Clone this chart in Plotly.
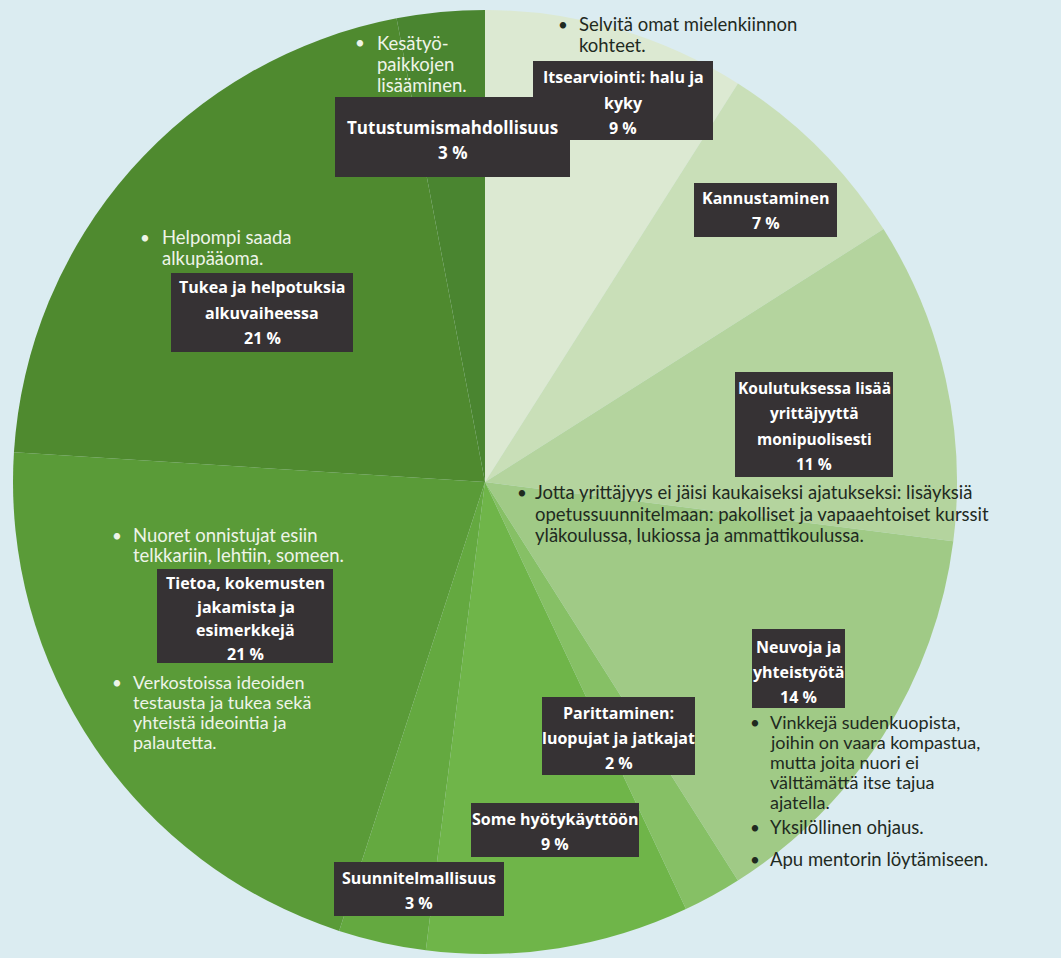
import plotly.graph_objects as go

W, H = 1061, 958

# ---- data ----
categories = [
    "Itsearviointi: halu ja kyky",
    "Kannustaminen",
    "Koulutuksessa lisää yrittäjyyttä monipuolisesti",
    "Neuvoja ja yhteistyötä",
    "Parittaminen: luopujat ja jatkajat",
    "Some hyötykäyttöön",
    "Suunnitelmallisuus",
    "Tietoa, kokemusten jakamista ja esimerkkejä",
    "Tukea ja helpotuksia alkuvaiheessa",
    "Tutustumismahdollisuus",
]
values = [9, 7, 11, 14, 2, 9, 3, 21, 21, 3]
slice_colors = ["#dce9d2", "#c9dfb8", "#b4d49e", "#a0ca86", "#86c065",
                "#6fb549", "#64a940", "#5a9b38", "#4f8a2f", "#4a8530"]

# label boxes: wrapped label lines (value appended), box extents in pixels
label_lines = [
    ["Itsearviointi: halu ja", "kyky"],
    ["Kannustaminen"],
    ["Koulutuksessa lisää", "yrittäjyyttä", "monipuolisesti"],
    ["Neuvoja ja", "yhteistyötä"],
    ["Parittaminen:", "luopujat ja jatkajat"],
    ["Some hyötykäyttöön"],
    ["Suunnitelmallisuus"],
    ["Tietoa, kokemusten", "jakamista ja", "esimerkkejä"],
    ["Tukea ja helpotuksia", "alkuvaiheessa"],
    ["Tutustumismahdollisuus"],
]
# (x0, y0, x1, y1, first line y, line step, font size)
label_boxes = [
    (533, 61, 713, 140, 77, 25.5, 16),
    (694, 183, 837, 237, 198, 25, 16),
    (735, 372, 893, 477, 388, 25.3, 15.5),
    (752, 629, 845, 708, 647, 25, 16),
    (542, 697, 695, 775, 713, 25, 16),
    (471, 803, 639, 857, 819, 24.5, 16),
    (334, 862, 504, 916, 878, 25, 16),
    (157, 569, 333, 663, 583, 23.5, 16),
    (171, 273, 353, 352, 287, 25.5, 16),
    (335, 97, 570, 177, 127, 25, 17),
]

# bullet notes: (lines, bullet x, text x, first line y, line step, font size, colour)
notes = [
    (["Selvitä omat mielenkiinnon", "kohteet."], 563, 577, 24, 21, 18.5, "#1f2a1f"),
    (["Kesätyö-", "paikkojen", "lisääminen."], 360, 375, 43, 21, 18.5, "#eef4e8"),
    (["Helpompi saada", "alkupääoma."], 145, 160, 237, 21, 18.5, "#eef4e8"),
    (["Jotta yrittäjyys ei jäisi kaukaiseksi ajatukseksi: lisäyksiä",
      "opetussuunnitelmaan: pakolliset ja vapaaehtoiset kurssit",
      "yläkoulussa, lukiossa ja ammattikoulussa."], 522, 533, 492, 21.5, 18.5, "#1f2a1f"),
    (["Nuoret onnistujat esiin", "telkkariin, lehtiin, someen."], 117, 131, 535, 20, 18.5, "#eef4e8"),
    (["Verkostoissa ideoiden", "testausta ja tukea sekä",
      "yhteistä ideointia ja", "palautetta."], 117, 131, 682, 20, 18, "#eef4e8"),
    (["Vinkkejä sudenkuopista,", "joihin on vaara kompastua,",
      "mutta joita nuori ei", "välttämättä itse tajua", "ajatella."], 755, 768, 722, 20, 18, "#1f2a1f"),
    (["Yksilöllinen ohjaus."], 755, 768, 827, 20, 18.5, "#1f2a1f"),
    (["Apu mentorin löytämiseen."], 755, 768, 859, 20, 18.5, "#1f2a1f"),
]


def px(x):
    return x / W


def py(y):
    return 1 - y / H


fig = go.Figure(go.Pie(
    labels=categories,
    values=values,
    sort=False,
    direction="clockwise",
    rotation=0,
    marker=dict(colors=slice_colors, line=dict(width=0)),
    textinfo="none",
    hoverinfo="label+percent",
    domain=dict(x=[px(13), px(957)], y=[py(954), py(10)]),
    showlegend=False,
))

shapes = []
annotations = []
for i in range(len(categories)):
    x0, y0, x1, y1, ly, step, fs = label_boxes[i]
    shapes.append(dict(type="rect", xref="paper", yref="paper",
                       x0=px(x0), x1=px(x1), y0=py(y1), y1=py(y0),
                       fillcolor="#363234", line=dict(width=0), layer="above"))
    lines = label_lines[i] + [f"{values[i]} %"]
    cx = (x0 + x1) / 2
    for k, t in enumerate(lines):
        annotations.append(dict(
            x=px(cx), y=py(ly + k * step), xref="paper", yref="paper",
            text=f"<b>{t}</b>", showarrow=False, xanchor="center", yanchor="middle",
            font=dict(family="Open Sans", size=fs, color="#ffffff")))

for lines, bx, tx, ly, step, fs, col in notes:
    annotations.append(dict(
        x=px(bx), y=py(ly), xref="paper", yref="paper", text="•",
        showarrow=False, xanchor="center", yanchor="middle",
        font=dict(family="Lato", size=17, color=col)))
    for k, t in enumerate(lines):
        annotations.append(dict(
            x=px(tx), y=py(ly + k * step), xref="paper", yref="paper",
            text=t, showarrow=False, xanchor="left", yanchor="middle",
            font=dict(family="Lato", size=fs, color=col)))

fig.update_layout(
    width=W, height=H,
    margin=dict(l=0, r=0, t=0, b=0),
    paper_bgcolor="#dbecf1",
    plot_bgcolor="#dbecf1",
    shapes=shapes,
    annotations=annotations,
)

fig.write_html("out.html",
               config={"displayModeBar": False},
               post_script="document.body.style.margin='0';document.body.style.background='#dbecf1';")
